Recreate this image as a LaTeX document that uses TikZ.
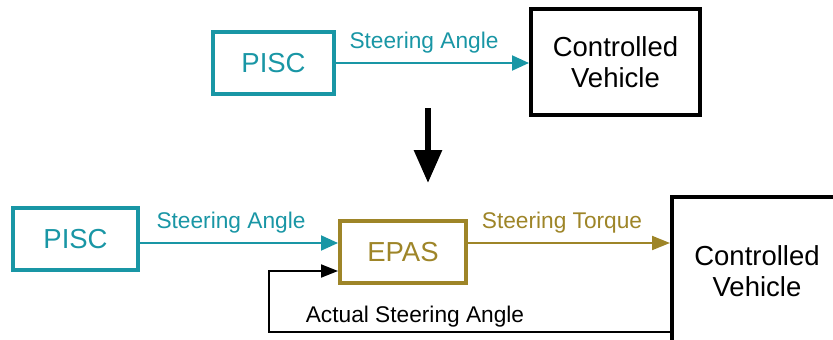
\documentclass[tikz,border=0pt]{standalone}
\usepackage{fontspec}
\setmainfont{Liberation Sans}
\usetikzlibrary{arrows.meta}
\definecolor{tealc}{RGB}{25,150,165}
\definecolor{olivec}{RGB}{158,133,40}
\tikzset{
  boxfont/.style={font=\fontsize{27.5}{31}\selectfont},
  lblfont/.style={font=\fontsize{22.7}{26}\selectfont},
  tealbox/.style={draw=tealc, line width=4pt, text=tealc, boxfont, inner sep=0pt},
  olivebox/.style={draw=olivec, line width=4pt, text=olivec, boxfont, inner sep=0pt},
  blackbox/.style={draw=black, line width=4pt, boxfont, inner sep=0pt, align=center},
  tealarrow/.style={draw=tealc, line width=2pt, -{Triangle[length=17pt,width=15pt]}},
  olivearrow/.style={draw=olivec, line width=2pt, -{Triangle[length=18pt,width=14pt]}},
  blackarrow/.style={draw=black, line width=2pt, -{Triangle[length=17pt,width=13pt]}},
}
\begin{document}
\begin{tikzpicture}[x=1pt,y=-1pt]
\useasboundingbox (0,0) rectangle (833,340);
\clip (0,0) rectangle (833,340);
% top row
\node[tealbox, minimum width=121pt, minimum height=62pt] (pisc1) at (273.5,63) {PISC};
\node[blackbox, minimum width=169pt, minimum height=106pt] (cv1) at (615.5,62) {Controlled\\Vehicle};
\draw[tealarrow] (pisc1.east) -- (pisc1.east -| cv1.west);
\node[lblfont, text=tealc, anchor=base] (lbl1) at (424,48) {Steering Angle};
% transition arrow
\coordinate (dtop) at (428,108);
\coordinate (dbot) at (428,183);
\draw[line width=6pt, -{Triangle[length=33pt,width=27pt]}] (dtop) -- (dbot);
% bottom row
\node[tealbox, minimum width=125pt, minimum height=62pt] (pisc2) at (75.5,239) {PISC};
\node[olivebox, minimum width=126pt, minimum height=62pt] (epas) at (403,252) {EPAS};
\node[blackbox, minimum width=170pt, minimum height=148pt] (cv2) at (757,271) {Controlled\\Vehicle};
\draw[tealarrow] (pisc2.east |- 0,243) -- (epas.west |- 0,243);
\draw[olivearrow] (epas.east |- 0,243) -- (cv2.west |- 0,243);
\node[lblfont, text=tealc, anchor=base] (lbl2) at (231,228) {Steering Angle};
\node[lblfont, text=olivec, anchor=base] (lbl3) at (562,228) {Steering Torque};
\coordinate (fbl) at (269,332);
\draw[blackarrow] (cv2.west |- fbl) -- (fbl) -- (fbl |- 0,271) -- (epas.west |- 0,271);
\node[lblfont, anchor=base] (lbl4) at (415,322) {Actual Steering Angle};
\end{tikzpicture}
\end{document}
